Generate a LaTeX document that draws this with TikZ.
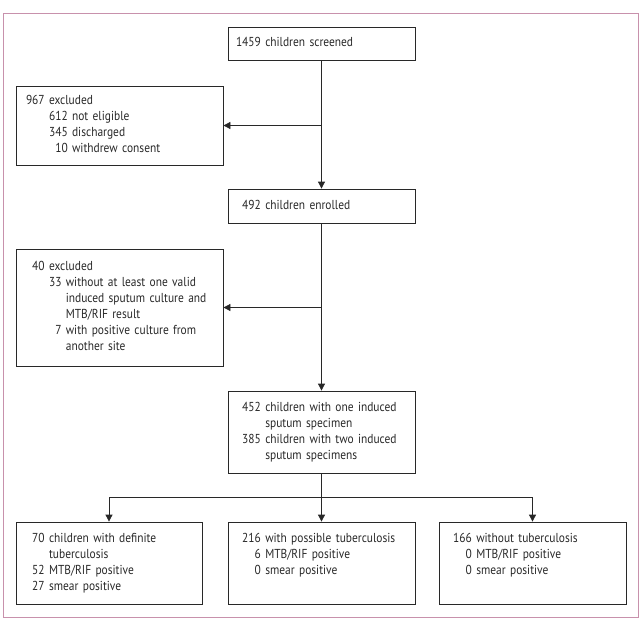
\documentclass[tikz,border=0pt]{standalone}
\usepackage{fontspec}
\setmainfont{PT Sans}[FakeStretch=0.88]
\usetikzlibrary{arrows.meta,positioning}

\definecolor{framepink}{RGB}{200,145,172}
\definecolor{linegray}{RGB}{40,40,40}

\begin{document}
\begin{tikzpicture}[
    x=1pt, y=-1pt,
    box/.style={rectangle, draw=linegray, line width=0.8pt, align=left, inner ysep=0pt,
        font=\fontsize{13}{16}\selectfont, text=linegray},
    sidebox/.style={box, inner xsep=10pt, text width=187pt},
    midbox/.style={box, inner xsep=8pt, text width=171pt},
    arrow/.style={->, >={Triangle[length=7pt,width=7pt]}, draw=linegray, line width=0.8pt}
]
\useasboundingbox (0,0) rectangle (643,621);

% Frame
\draw[framepink, line width=0.8pt] (3,13) rectangle (638,617);

% Flow
\node[midbox, minimum height=33pt] (screened) at (321.5,43.5)
    {\begin{tabular}{@{}r@{\ }l@{}}1459 & children screened\end{tabular}};
\node[sidebox, minimum height=79pt] (excl1) at (119.5,125.5)
    {\begin{tabular}{@{}r@{\ }r@{\ }l@{}}
     967 & \multicolumn{2}{@{}l@{}}{excluded}\\
     & 612 & not eligible\\
     & 345 & discharged\\
     & 10 & withdrew consent
     \end{tabular}};
\node[midbox, minimum height=34pt] (enrolled) at (321.5,206)
    {\begin{tabular}{@{}r@{\ }l@{}}\hphantom{0}492 & children enrolled\end{tabular}};
\node[sidebox, minimum height=117pt] (excl2) at (119.5,307.5)
    {\begin{tabular}{@{}r@{\ }r@{\ }l@{}}
     \hphantom{0}40 & \multicolumn{2}{@{}l@{}}{excluded}\\
     & 33 & without at least one valid\\
     & & induced sputum culture and\\
     & & MTB/RIF result\\
     & 7 & with positive culture from\\
     & & another site
     \end{tabular}};
\node[midbox, minimum height=82pt] (specimen) at (321.5,432)
    {\begin{tabular}{@{}r@{\ }l@{}}
     \hphantom{0}452 & children with one induced\\
     & sputum specimen\\
     \hphantom{0}385 & children with two induced\\
     & sputum specimens
     \end{tabular}};
\node[box, inner xsep=10pt, text width=166pt, minimum height=82pt] (definite) at (109,563)
    {\begin{tabular}{@{}r@{\ }l@{}}
     \hphantom{0}70 & children with definite\\
     & tuberculosis\\
     \hphantom{0}52 & MTB/RIF positive\\
     \hphantom{0}27 & smear positive
     \end{tabular}};
\node[midbox, minimum height=82pt] (possible) at (321.5,563)
    {\begin{tabular}{@{}r@{\ }l@{}}
     \hphantom{0}216 & with possible tuberculosis\\
     6 & MTB/RIF positive\\
     0 & smear positive\\
     &
     \end{tabular}};
\node[midbox, minimum height=82pt] (without) at (532.5,563)
    {\begin{tabular}{@{}r@{\ }l@{}}
     \hphantom{0}166 & without tuberculosis\\
     0 & MTB/RIF positive\\
     0 & smear positive\\
     &
     \end{tabular}};

% Arrows
\coordinate (split1) at (screened.south |- excl1.east);
\coordinate (split2) at (enrolled.south |- excl2.east);
\coordinate (split3) at (321.5,497);
\draw[arrow] (screened) -- (enrolled);
\draw[arrow] (split1) -- (excl1);
\draw[arrow] (enrolled) -- (specimen);
\draw[arrow] (split2) -- (excl2);
\draw[arrow] (specimen) -- (possible);
\draw[arrow] (split3) -| (definite.north);
\draw[arrow] (split3) -| (without.north);

\end{tikzpicture}
\end{document}
